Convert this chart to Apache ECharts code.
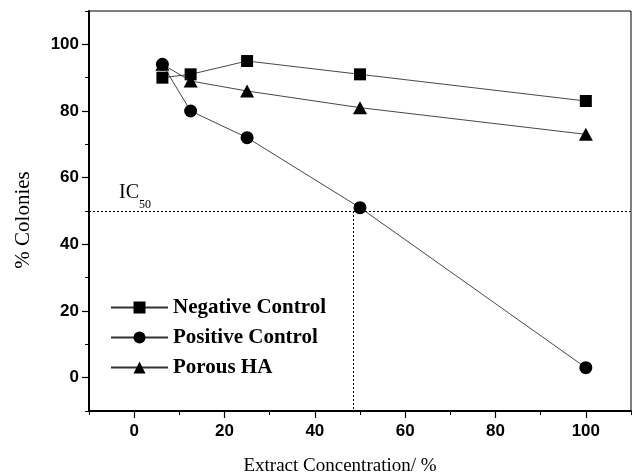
<!DOCTYPE html>
<html>
<head>
<meta charset="utf-8">
<script src="https://cdn.jsdelivr.net/npm/echarts@6/dist/echarts.min.js"></script>
<style>
html,body{margin:0;padding:0;background:#fff;}
#c{width:635px;height:474px;}
</style>
</head>
<body>
<div id="c"></div>
<script>
var concentrations = [6.25, 12.5, 25, 50, 100];
var negativeControl = [90, 91, 95, 91, 83];
var positiveControl = [94, 80, 72, 51, 3];
var porousHA = [94, 89, 86, 81, 73];
var seriesNames = ['Negative Control', 'Positive Control', 'Porous HA'];
var xTickLabels = [0, 20, 40, 60, 80, 100];
var yTickLabels = [0, 20, 40, 60, 80, 100];
var ic50Level = 50;
var ic50Concentration = 48.5;

function pairs(ys){ return concentrations.map(function(x,i){ return [x, ys[i]]; }); }

var serif = '"Liberation Serif", "DejaVu Serif", serif';
var sans = '"Liberation Sans", Arial, sans-serif';

var chart = echarts.init(document.getElementById('c'), null, {renderer:'canvas'});
var lineStyle = {color:'#333', width:0.9};
chart.setOption({
  animation:false,
  backgroundColor:'#fff',
  grid:{left:89, right:4, top:11, bottom:63, show:true, borderColor:'#000', borderWidth:1,
        containLabel:false, outerBoundsMode:'none'},
  legend:{
    orient:'vertical', left:110, top:297, padding:0,
    itemWidth:57, itemHeight:15, itemGap:9,
    textStyle:{fontFamily:serif, fontWeight:'bold', fontSize:21, color:'#000'},
    data:seriesNames
  },
  xAxis:[{
    type:'value', min:-10, max:110, interval:10, position:'bottom',
    name:'Extract Concentration/ %', nameLocation:'middle', nameGap:46,
    nameTextStyle:{fontFamily:serif, fontSize:19, color:'#000', padding:[0,40,0,0]},
    axisLine:{show:true, onZero:false, lineStyle:{color:'#000', width:2}},
    axisTick:{show:true, length:4, lineStyle:{color:'#000', width:1}},
    axisLabel:{show:true, margin:12, fontFamily:sans, fontWeight:'bold', fontSize:17, color:'#000',
      formatter:function(v){ return xTickLabels.indexOf(v) >= 0 ? String(v) : ''; }},
    splitLine:{show:false}
  },{
    type:'value', min:-10, max:110, position:'bottom', offset:0,
    axisLine:{show:false, onZero:false},
    axisTick:{show:true, length:7, customValues:xTickLabels, lineStyle:{color:'#000', width:1.2}},
    axisLabel:{show:false},
    splitLine:{show:false}
  }],
  yAxis:[{
    type:'value', min:-10, max:110, interval:10, position:'left',
    name:'% Colonies', nameLocation:'middle', nameGap:55,
    nameTextStyle:{fontFamily:serif, fontSize:21, color:'#000', padding:[0,18,0,0]},
    axisLine:{show:true, onZero:false, lineStyle:{color:'#000', width:2}},
    axisTick:{show:true, length:4, lineStyle:{color:'#000', width:1}},
    axisLabel:{show:true, margin:10, fontFamily:sans, fontWeight:'bold', fontSize:17, color:'#000',
      formatter:function(v){ return yTickLabels.indexOf(v) >= 0 ? String(v) : ''; }},
    splitLine:{show:false}
  },{
    type:'value', min:-10, max:110, position:'left', offset:0,
    axisLine:{show:false, onZero:false},
    axisTick:{show:true, length:7, customValues:yTickLabels, lineStyle:{color:'#000', width:1.2}},
    axisLabel:{show:false},
    splitLine:{show:false}
  }],
  series:[
    {name:seriesNames[0], type:'line', data:pairs(negativeControl), symbol:'rect', symbolSize:12,
     itemStyle:{color:'#000'}, lineStyle:lineStyle, z:3},
    {name:seriesNames[1], type:'line', data:pairs(positiveControl), symbol:'circle', symbolSize:13,
     itemStyle:{color:'#000'}, lineStyle:lineStyle, z:2,
     markLine:{
       silent:true, symbol:['none','none'],
       lineStyle:{color:'#000', width:1, type:[2,2]},
       data:[
         [{coord:[-10, ic50Level], label:{show:true, position:'insideStartTop', distance:[30,0],
            formatter:'{m|IC}{s|50}',
            rich:{
              m:{fontFamily:serif, fontSize:20, color:'#000', verticalAlign:'bottom', padding:[0,0,8,0]},
              s:{fontFamily:serif, fontSize:12, color:'#000', verticalAlign:'bottom'}
            }}},
          {coord:[110, ic50Level]}],
         [{coord:[ic50Concentration, ic50Level], label:{show:false}}, {coord:[ic50Concentration, -10]}]
       ]
     }},
    {name:seriesNames[2], type:'line', data:pairs(porousHA), symbol:'triangle', symbolSize:[14,13],
     itemStyle:{color:'#000'}, lineStyle:lineStyle, z:4}
  ]
});
</script>
</body>
</html>
